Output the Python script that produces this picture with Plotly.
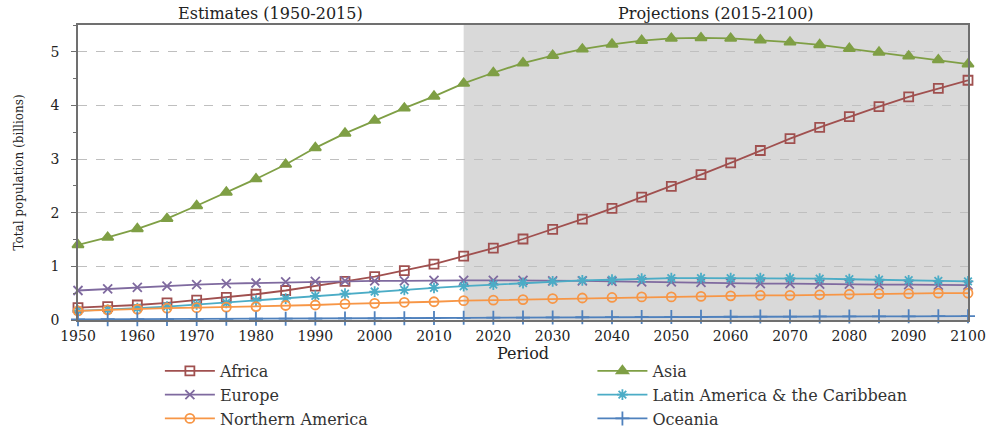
import plotly.graph_objects as go

years = list(range(1950, 2101, 5))

africa = [0.23, 0.25, 0.28, 0.32, 0.37, 0.42, 0.48, 0.55, 0.63, 0.72, 0.81, 0.92, 1.04, 1.19,
          1.34, 1.51, 1.69, 1.88, 2.08, 2.29, 2.49, 2.71, 2.93, 3.16, 3.38, 3.59, 3.79, 3.98,
          4.16, 4.32, 4.47]
asia = [1.40, 1.54, 1.70, 1.89, 2.13, 2.38, 2.63, 2.90, 3.21, 3.48, 3.72, 3.95, 4.17, 4.41,
        4.61, 4.79, 4.93, 5.05, 5.14, 5.21, 5.25, 5.26, 5.25, 5.22, 5.18, 5.13, 5.06, 4.99,
        4.92, 4.85, 4.77]
europe = [0.55, 0.58, 0.61, 0.63, 0.66, 0.68, 0.69, 0.71, 0.72, 0.73, 0.73, 0.73, 0.74, 0.74,
          0.74, 0.74, 0.73, 0.73, 0.72, 0.71, 0.71, 0.70, 0.69, 0.68, 0.68, 0.67, 0.67, 0.66,
          0.66, 0.65, 0.65]
latam = [0.17, 0.19, 0.22, 0.25, 0.29, 0.32, 0.36, 0.40, 0.45, 0.49, 0.53, 0.56, 0.60, 0.63,
         0.66, 0.69, 0.72, 0.74, 0.75, 0.77, 0.78, 0.78, 0.78, 0.78, 0.78, 0.77, 0.76, 0.75,
         0.74, 0.73, 0.72]
namerica = [0.17, 0.19, 0.20, 0.22, 0.23, 0.24, 0.25, 0.27, 0.28, 0.30, 0.31, 0.33, 0.34, 0.36,
            0.37, 0.38, 0.40, 0.41, 0.42, 0.43, 0.43, 0.44, 0.45, 0.46, 0.46, 0.47, 0.48, 0.49,
            0.49, 0.50, 0.50]
oceania = [0.013, 0.014, 0.016, 0.018, 0.020, 0.021, 0.023, 0.025, 0.027, 0.029, 0.031, 0.034,
           0.037, 0.040, 0.043, 0.046, 0.048, 0.051, 0.053, 0.056, 0.057, 0.059, 0.061, 0.063,
           0.064, 0.066, 0.067, 0.068, 0.069, 0.071, 0.072]

series = [
    ("Africa", africa, "#A0504F", "square-open", 9, "legend"),
    ("Asia", asia, "#7F9F45", "triangle-up", 10, "legend2"),
    ("Europe", europe, "#7F6A9F", "x-thin", 9, "legend"),
    ("Latin America & the Caribbean", latam, "#4BACC6", "asterisk-open", 9, "legend2"),
    ("Northern America", namerica, "#F79646", "circle-open", 9, "legend"),
    ("Oceania", oceania, "#4F81BD", "cross-thin", 10, "legend2"),
]

font_family = "DejaVu Serif, Liberation Serif, serif"

fig = go.Figure()
for name, vals, color, sym, size, lg in series:
    fig.add_trace(go.Scatter(
        x=years, y=vals, name=name, mode="lines+markers", legend=lg,
        line=dict(color=color, width=1.8),
        marker=dict(symbol=sym, size=size, color=color,
                    line=dict(color=color, width=1.8)),
        cliponaxis=False,
    ))

fig.add_vrect(x0=2015, x1=2100, fillcolor="#D9D9D9", opacity=1, line_width=0, layer="below")

fig.add_annotation(x=(1950 + 2015) / 2, y=1.0, xref="x", yref="paper", yanchor="bottom",
                   yshift=0, text="Estimates (1950-2015)", showarrow=False,
                   font=dict(family=font_family, size=16, color="#222"))
fig.add_annotation(x=(2015 + 2100) / 2, y=1.0, xref="x", yref="paper", yanchor="bottom",
                   yshift=0, text="Projections (2015-2100)", showarrow=False,
                   font=dict(family=font_family, size=16, color="#222"))

legend_common = dict(orientation="v", yanchor="top", itemwidth=50,
                     font=dict(family=font_family, size=16, color="#333"),
                     bgcolor="rgba(0,0,0,0)")

fig.update_layout(
    width=987, height=436,
    margin=dict(l=78, r=19, t=25, b=116, autoexpand=False),
    paper_bgcolor="white", plot_bgcolor="white",
    font=dict(family=font_family, size=14, color="#222"),
    showlegend=True,
    legend=dict(x=0.092, y=-0.115, xanchor="left", **legend_common),
    legend2=dict(x=0.578, y=-0.115, xanchor="left", **legend_common),
    xaxis=dict(range=[1950, 2100], tickvals=list(range(1950, 2101, 10)),
               showgrid=False, zeroline=False, showline=True, linecolor="#707070",
               linewidth=1.5, mirror=True, ticks="", tickfont=dict(size=14),
               ticklabelstandoff=2,
               title=dict(text="Period", font=dict(size=16), standoff=2)),
    yaxis=dict(range=[0, 5.5], tickvals=[0, 1, 2, 3, 4, 5],
               showgrid=True, gridcolor="#BFBFBF", griddash="dash", gridwidth=1,
               zeroline=False, showline=True, linecolor="#707070", linewidth=1.5,
               mirror=True, ticks="outside", ticklen=5, tickcolor="#707070",
               minor=dict(dtick=0.5, ticks="outside", ticklen=3, tickcolor="#707070"),
               tickfont=dict(size=14), ticklabelstandoff=9,
               title=dict(text="Total population (billions)", font=dict(size=12), standoff=24)),
)

fig.write_html("out.html")
